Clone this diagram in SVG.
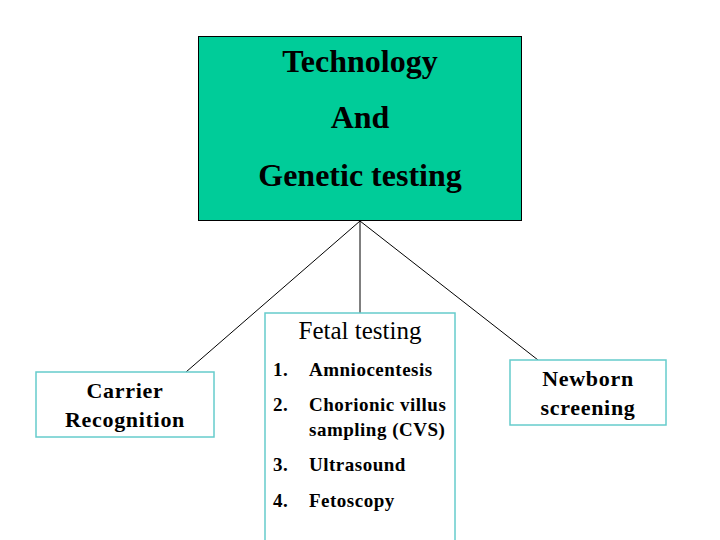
<svg xmlns="http://www.w3.org/2000/svg" width="720" height="540" viewBox="0 0 720 540">
<style>
text{font-family:"Liberation Serif","Times New Roman",serif;fill:#000}
.main{font-size:32px;font-weight:bold;text-anchor:middle}
.lbl{font-size:22px;text-anchor:middle;font-weight:bold;letter-spacing:0.7px}
.hd{font-size:25px;text-anchor:middle}
.li{font-size:19px;font-weight:bold;letter-spacing:0.5px}
.box{fill:#fff;stroke:#66cccc;stroke-width:1.5}
</style>
<rect width="720" height="540" fill="#fff"/>
<g id="connectors" stroke="#000" stroke-width="1" fill="none">
<line x1="360" y1="221" x2="186" y2="372"/>
<line x1="360" y1="221" x2="360" y2="313"/>
<line x1="360" y1="221" x2="538" y2="360"/>
</g>
<g id="technology">
<rect x="198.5" y="36.5" width="323" height="184" fill="#00cc99" stroke="#000" stroke-width="1"/>
<text class="main" x="360" y="72">Technology</text>
<text class="main" x="360" y="128">And</text>
<text class="main" x="360" y="186">Genetic testing</text>
</g>
<g id="carrier">
<rect class="box" x="36" y="372" width="178" height="65"/>
<text class="lbl" x="125" y="398">Carrier</text>
<text class="lbl" x="125" y="427">Recognition</text>
</g>
<g id="fetal">
<rect class="box" x="265" y="313" width="190" height="240"/>
<text class="hd" x="360" y="339">Fetal testing</text>
<text class="li" x="273" y="376">1.</text><text class="li" x="309" y="376">Amniocentesis</text>
<text class="li" x="273" y="411">2.</text><text class="li" x="309" y="411">Chorionic villus</text>
<text class="li" x="309" y="436">sampling (CVS)</text>
<text class="li" x="273" y="471">3.</text><text class="li" x="309" y="471">Ultrasound</text>
<text class="li" x="273" y="507">4.</text><text class="li" x="309" y="507">Fetoscopy</text>
</g>
<g id="newborn">
<rect class="box" x="510" y="360" width="156" height="65"/>
<text class="lbl" x="588" y="386">Newborn</text>
<text class="lbl" x="588" y="415">screening</text>
</g>
</svg>
